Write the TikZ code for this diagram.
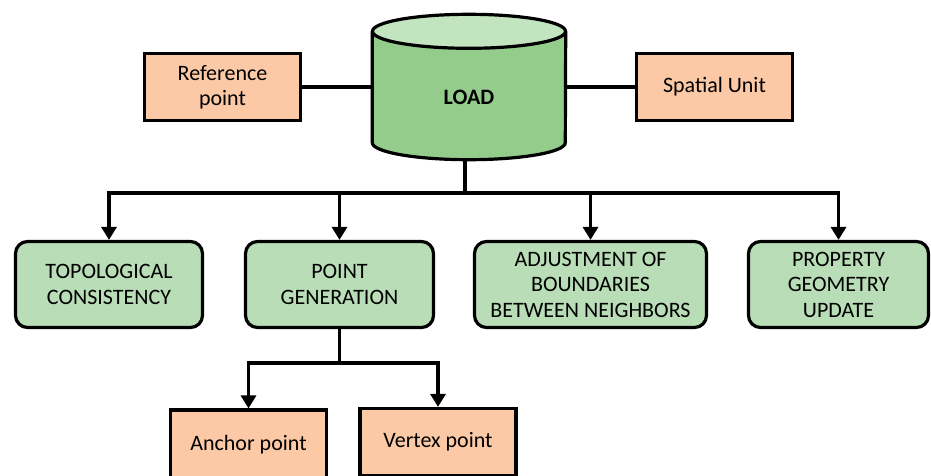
\documentclass[tikz,border=0pt]{standalone}
\usepackage{fontspec}
\setmainfont{Carlito}
\usetikzlibrary{arrows.meta}
\definecolor{peach}{RGB}{251,201,166}
\definecolor{leaf}{RGB}{185,221,182}
\definecolor{dbbody}{RGB}{148,205,139}
\definecolor{dbtop}{RGB}{194,228,190}

\begin{document}
\begin{tikzpicture}[x=1pt, y=-1pt,
	font=\fontsize{22}{25.5}\selectfont,
	unit/.style={draw, line width=3.2pt, fill=peach, align=center, minimum width=156pt, minimum height=67pt},
	task/.style={draw, line width=3.2pt, fill=leaf, rounded corners=12pt, align=center, minimum height=86pt},
	link/.style={line width=3.5pt},
	arr/.style={line width=3.5pt, -{Triangle[length=13pt,width=15pt]}}]
		\clip (0,0) rectangle (931,476);
		\node[minimum width=193pt, minimum height=111pt, inner sep=0pt] (load) at (469,87) {};
		\coordinate (hub) at (465,193);
		\coordinate (sub) at (339.5,363);
		\draw[link] (hub |- load.south) -- (hub);
		\draw[link, line width=3.2pt, fill=dbbody] (load.north west) -- (load.south west) arc[start angle=180, end angle=360, x radius=96.5pt, y radius=17pt] -- (load.north east);
		\draw[link, line width=3.2pt, fill=dbtop] (load.north) ellipse[x radius=96.5pt, y radius=17pt];
		\node[font=\fontsize{22}{25.5}\selectfont\bfseries] (loadtext) at ([yshift=-10pt]load.center) {LOAD};
		\node[unit] (refpt) at (222.5,87) {Reference\\point};
		\node[unit] (spunit) at (714.5,87) {Spatial Unit};
		\node[task, minimum width=187pt] (topo) at (109,284.5) {TOPOLOGICAL\\CONSISTENCY};
		\node[task, minimum width=188pt] (pgen) at (339.5,284.5) {POINT\\GENERATION};
		\node[task, minimum width=232pt] (adjust) at (590.5,284.5) {ADJUSTMENT OF\\BOUNDARIES\\BETWEEN NEIGHBORS};
		\node[task, minimum width=180pt] (update) at (838.5,284.5) {PROPERTY\\GEOMETRY\\UPDATE};
		\node[unit, minimum height=70pt] (anchor) at (248.5,445) {Anchor point};
		\node[unit] (vertex) at (438,442) {Vertex point};
		\draw[link] (refpt.east) -- (refpt.east -| load.west);
		\draw[link] (spunit.west) -- (spunit.west -| load.east);
		\draw[arr] (hub) -| (topo.north);
		\draw[arr] (hub) -| (pgen.north);
		\draw[arr] (hub) -| (adjust.north);
		\draw[arr] (hub) -| (update.north);
		\draw[arr] (pgen.south) -- (sub) -| (anchor.north);
		\draw[arr] (pgen.south) -- (sub) -| (vertex.north);
	\end{tikzpicture}
\end{document}
